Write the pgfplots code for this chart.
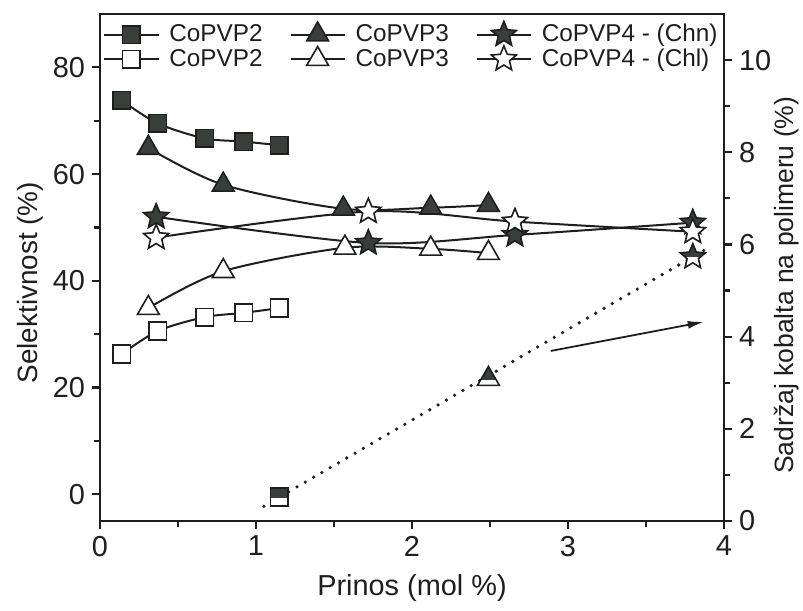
\documentclass[border=0pt]{standalone}
\usepackage{fontspec}
\setmainfont{Liberation Sans}
\usepackage{pgfplots}
\pgfplotsset{compat=1.18}
\usetikzlibrary{arrows.meta}

\definecolor{ink}{HTML}{1E1E1E}
\definecolor{markfill}{HTML}{393E3B}

% --- mark shapes -------------------------------------------------------
\def\sqpath{\pgfpathrectangle{\pgfpoint{-\pgfplotmarksize}{-\pgfplotmarksize}}%
  {\pgfpoint{2\pgfplotmarksize}{2\pgfplotmarksize}}}
\def\tripath{\pgfpathmoveto{\pgfpointpolar{90}{\pgfplotmarksize}}%
  \pgfpathlineto{\pgfpointpolar{210}{\pgfplotmarksize}}%
  \pgfpathlineto{\pgfpointpolar{330}{\pgfplotmarksize}}\pgfpathclose}
\def\starpath{\pgfpathmoveto{\pgfpointpolar{90}{\pgfplotmarksize}}%
  \pgfpathlineto{\pgfpointpolar{126}{0.45\pgfplotmarksize}}%
  \pgfpathlineto{\pgfpointpolar{162}{\pgfplotmarksize}}%
  \pgfpathlineto{\pgfpointpolar{198}{0.45\pgfplotmarksize}}%
  \pgfpathlineto{\pgfpointpolar{234}{\pgfplotmarksize}}%
  \pgfpathlineto{\pgfpointpolar{270}{0.45\pgfplotmarksize}}%
  \pgfpathlineto{\pgfpointpolar{306}{\pgfplotmarksize}}%
  \pgfpathlineto{\pgfpointpolar{342}{0.45\pgfplotmarksize}}%
  \pgfpathlineto{\pgfpointpolar{18}{\pgfplotmarksize}}%
  \pgfpathlineto{\pgfpointpolar{54}{0.45\pgfplotmarksize}}\pgfpathclose}

\pgfdeclareplotmark{pstar}{\starpath\pgfusepathqfillstroke}

% upper half filled, lower half white
\def\halfmark#1{%
  \begin{pgfscope}#1\pgfsetfillcolor{white}\pgfusepath{fill}\end{pgfscope}%
  \begin{pgfscope}%
    \pgfpathrectangle{\pgfpoint{-2\pgfplotmarksize}{0pt}}{\pgfpoint{4\pgfplotmarksize}{2\pgfplotmarksize}}%
    \pgfusepath{clip}%
    #1\pgfsetfillcolor{markfill}\pgfusepath{fill}%
  \end{pgfscope}%
  #1\pgfusepath{stroke}}
\pgfdeclareplotmark{hsquare}{\halfmark\sqpath}
\pgfdeclareplotmark{htriangle}{\halfmark\tripath}
\pgfdeclareplotmark{hstar}{\halfmark\starpath}

\pgfplotsset{
  frame/.style={
    at={(0,0)}, anchor=south west,
    scale only axis, width=312bp, height=253.5bp,
    xmin=0, xmax=4,
    tick align=outside,
    major tick length=4bp, minor tick length=3bp,
    axis line style={ink, line width=1.3bp},
    every tick/.style={ink, line width=1.1bp},
    tick label style={font=\fontsize{14.5}{15}\selectfont, text=ink},
    /pgf/number format/assume math mode=true,
  },
  sq/.style={ink, line width=1bp, smooth, mark=square*, mark size=4.4bp,
    mark options={solid, line width=0.8bp, fill=#1}},
  tri/.style={ink, line width=1bp, smooth, mark=triangle*, mark size=6.3bp,
    mark options={solid, line width=0.8bp, fill=#1}},
  st/.style={ink, line width=1bp, smooth, mark=pstar, mark size=6.6bp,
    mark options={solid, line width=0.8bp, fill=#1}},
}

\begin{document}
\begin{tikzpicture}

% selectivity (left axis)
\begin{axis}[
  frame,
  ymin=-5, ymax=90,
  xtick={0,1,2,3,4}, minor xtick={0.5,1.5,2.5,3.5},
  ytick={0,20,40,60,80}, minor ytick={10,30,50,70},
  xtick pos=left, ytick pos=left,
  xlabel={Prinos (mol \%)}, ylabel={Selektivnost (\%)},
  xlabel style={font=\fontsize{14.5}{16}\selectfont, text=ink,
    at={(axis description cs:0.5,-0.132)}, anchor=center},
  ylabel style={font=\fontsize{14}{16}\selectfont, text=ink,
    at={(axis description cs:-0.112,0.47)}, anchor=center},
  legend columns=3,
  legend style={at={(0,1)}, xshift=1.5bp, yshift=-3.5bp, anchor=north west,
    draw=none, fill=none, inner sep=0pt, row sep=0bp,
    font=\fontsize{12.2}{13}\selectfont, text=ink,
    nodes={inner xsep=0pt, inner ysep=0.5bp},
    /tikz/every odd column/.append style={column sep=5bp},
    /tikz/every even column/.append style={column sep=13.5bp}},
  legend cell align=left,
  legend image code/.code={%
    \draw[mark repeat=2, mark phase=2, #1]
      plot coordinates {(0bp,0bp) (13.5bp,0bp) (27bp,0bp)};},
]
% CoPVP2, Chn
\addplot[sq=markfill] coordinates {
  (0.14,73.8) (0.37,69.5) (0.67,66.7) (0.92,66.1) (1.15,65.4)};
% CoPVP3, Chn
\addplot[tri=markfill] coordinates {
  (0.31,64.9) (0.79,58.0) (1.56,53.5) (2.12,53.7) (2.49,54.2)};
% CoPVP4, Chn
\addplot[st=markfill] coordinates {
  (0.36,52.0) (1.72,47.1) (2.66,48.6) (3.80,50.9)};
% CoPVP2, Chl
\addplot[sq=white] coordinates {
  (0.14,26.3) (0.37,30.6) (0.67,33.2) (0.92,34.0) (1.15,34.9)};
% CoPVP3, Chl
\addplot[tri=white] coordinates {
  (0.31,34.9) (0.79,41.8) (1.57,46.2) (2.12,46.0) (2.49,45.2)};
% CoPVP4, Chl
\addplot[st=white] coordinates {
  (0.36,48.1) (1.72,53.0) (2.66,51.1) (3.80,49.2)};
\legend{CoPVP2, CoPVP3, CoPVP4 - (Chn), CoPVP2, CoPVP3, CoPVP4 - (Chl)}
\end{axis}

% cobalt content (right axis)
\begin{axis}[
  frame,
  ymin=0, ymax=11,
  axis x line=none, axis y line*=right,
  ytick={0,2,4,6,8,10}, minor ytick={1,3,5,7,9},
  ylabel={Sadržaj kobalta na polimeru (\%)},
  ylabel style={font=\fontsize{13.3}{15}\selectfont, text=ink,
    at={(axis description cs:1.101,0.465)}, anchor=center, rotate=0},
]
\addplot[only marks, ink, mark=hsquare, mark size=4.4bp,
  mark options={line width=0.8bp}] coordinates {(1.15,0.52)};
\addplot[only marks, ink, mark=htriangle, mark size=6.3bp,
  mark options={line width=0.8bp}] coordinates {(2.49,3.08)};
\addplot[only marks, ink, mark=hstar, mark size=6.6bp,
  mark options={line width=0.8bp}] coordinates {(3.80,5.73)};
% linear trend
\addplot[ink, line width=1.8bp, line cap=round, dash pattern=on 0pt off 4.8bp]
  coordinates {(1.05,0.32) (3.87,5.87)};
\draw[ink, line width=0.9bp, -{Latex[length=8bp, width=4bp]}]
  (axis cs:2.89,3.69) -- (axis cs:3.87,4.32);
\end{axis}

\pgfresetboundingbox
\useasboundingbox (-50bp,-45bp) rectangle (351.5bp,260.5bp);
\end{tikzpicture}
\end{document}
